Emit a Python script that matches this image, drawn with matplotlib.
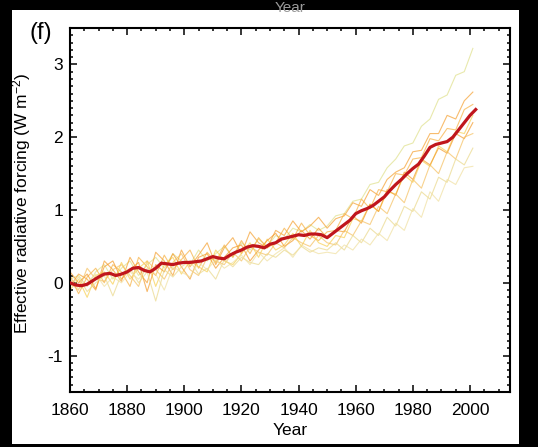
"""
Effective radiative forcing, panel (f): model ensemble members and the ensemble mean.
"""

import matplotlib

matplotlib.use("Agg")
import matplotlib.pyplot as plt
from matplotlib.patches import Rectangle
from matplotlib.ticker import MultipleLocator

plt.rcParams["font.family"] = ["Liberation Sans", "DejaVu Sans"]
plt.rcParams["mathtext.fontset"] = "custom"
plt.rcParams["mathtext.rm"] = "Liberation Sans"
plt.rcParams["mathtext.it"] = "Liberation Sans:italic"
plt.rcParams["axes.unicode_minus"] = False

#### Data

# ensemble mean, every second year
MEAN_YEARS = list(range(1860, 2004, 2))
MEAN_ERF = [
    0.00, -0.03, -0.04, -0.02, 0.03, 0.08, 0.12, 0.13, 0.10, 0.12,
    0.15, 0.20, 0.21, 0.17, 0.15, 0.20, 0.27, 0.26, 0.25, 0.27,
    0.28, 0.28, 0.29, 0.30, 0.33, 0.36, 0.34, 0.33, 0.38, 0.42,
    0.45, 0.49, 0.51, 0.50, 0.48, 0.53, 0.55, 0.60, 0.62, 0.64,
    0.66, 0.65, 0.67, 0.67, 0.66, 0.62, 0.68, 0.74, 0.80, 0.86,
    0.95, 0.99, 1.02, 1.06, 1.12, 1.18, 1.27, 1.35, 1.42, 1.50,
    1.57, 1.63, 1.74, 1.86, 1.90, 1.92, 1.94, 2.00, 2.10, 2.20,
    2.30, 2.38,
]

# individual members, every third year
MEMBER_YEARS = list(range(1860, 2003, 3))
MEMBER_A = [
    0.05, 0.10, -0.05, 0.15, 0.25, 0.05, 0.20, 0.30, 0.10, 0.25,
    0.35, 0.20, 0.40, 0.30, 0.25, 0.45, 0.30, 0.40, 0.50, 0.35,
    0.55, 0.45, 0.60, 0.50, 0.65, 0.60, 0.75, 0.70, 0.80, 0.72,
    0.78, 0.92, 0.95, 1.12, 1.15, 1.35, 1.38, 1.58, 1.70, 1.88,
    1.92, 2.15, 2.25, 2.52, 2.58, 2.85, 2.90, 3.22,
]
MEMBER_B = [
    -0.05, 0.12, 0.05, -0.10, 0.30, 0.18, 0.02, 0.35, 0.15, 0.00,
    0.42, 0.30, 0.10, 0.45, 0.22, 0.38, 0.55, 0.25, 0.48, 0.62,
    0.40, 0.70, 0.55, 0.48, 0.72, 0.65, 0.85, 0.70, 0.78, 0.90,
    0.75, 0.88, 0.92, 1.10, 1.05, 1.28, 1.20, 1.42, 1.52, 1.58,
    1.80, 1.82, 2.05, 2.05, 2.30, 2.25, 2.50, 2.62,
]
MEMBER_C = [
    0.10, -0.15, 0.08, 0.20, 0.00, 0.25, 0.15, -0.05, 0.35, 0.22,
    0.10, 0.38, 0.18, 0.32, 0.45, 0.20, 0.42, 0.28, 0.52, 0.35,
    0.58, 0.40, 0.62, 0.48, 0.55, 0.75, 0.60, 0.82, 0.65, 0.58,
    0.70, 0.72, 0.95, 0.88, 1.15, 1.02, 1.28, 1.25, 1.50, 1.48,
    1.70, 1.72, 1.98, 1.95, 2.12, 2.10, 2.38, 2.45,
]
MEMBER_D = [
    -0.10, 0.05, -0.20, 0.10, 0.15, -0.02, 0.28, 0.05, 0.20, 0.30,
    -0.05, 0.25, 0.35, 0.12, 0.30, 0.22, 0.15, 0.45, 0.30, 0.25,
    0.40, 0.55, 0.35, 0.60, 0.45, 0.52, 0.68, 0.50, 0.72, 0.55,
    0.50, 0.65, 0.62, 0.88, 0.85, 1.08, 0.98, 1.25, 1.22, 1.48,
    1.38, 1.68, 1.60, 1.88, 1.80, 2.08, 2.05, 2.30,
]
MEMBER_E = [
    0.15, 0.00, 0.12, -0.08, 0.22, 0.30, 0.05, 0.18, 0.28, -0.12,
    0.25, 0.15, 0.40, 0.22, 0.05, 0.35, 0.40, 0.20, 0.35, 0.48,
    0.52, 0.30, 0.45, 0.58, 0.68, 0.50, 0.58, 0.72, 0.60, 0.75,
    0.62, 0.72, 0.70, 0.92, 0.82, 1.08, 0.98, 1.28, 1.20, 1.52,
    1.42, 1.70, 1.62, 1.85, 1.78, 2.05, 1.98, 2.20,
]
MEMBER_F = [
    0.00, -0.10, 0.20, 0.05, 0.02, 0.18, 0.25, 0.10, -0.05, 0.30,
    0.18, 0.05, 0.28, 0.40, 0.18, 0.10, 0.35, 0.30, 0.25, 0.42,
    0.30, 0.50, 0.42, 0.38, 0.55, 0.48, 0.62, 0.55, 0.50, 0.65,
    0.55, 0.52, 0.72, 0.65, 0.85, 0.80, 1.05, 0.95, 1.22, 1.10,
    1.42, 1.30, 1.62, 1.50, 1.80, 1.70, 2.00, 2.05,
]
MEMBER_G = [
    -0.05, 0.08, -0.12, 0.00, 0.10, -0.18, 0.12, 0.20, 0.00, 0.15,
    -0.25, 0.18, 0.08, 0.22, 0.30, 0.12, 0.20, 0.05, 0.32, 0.22,
    0.35, 0.28, 0.25, 0.40, 0.35, 0.45, 0.38, 0.50, 0.42, 0.48,
    0.45, 0.55, 0.45, 0.65, 0.55, 0.75, 0.65, 0.90, 0.78, 1.05,
    0.98, 1.25, 1.15, 1.45, 1.38, 1.70, 1.62, 1.85,
]
MEMBER_H = [
    0.05, -0.08, 0.00, 0.12, -0.05, 0.08, 0.00, 0.15, 0.05, 0.20,
    0.12, -0.10, 0.22, 0.15, 0.08, 0.28, 0.18, 0.32, 0.20, 0.28,
    0.38, 0.25, 0.42, 0.30, 0.40, 0.48, 0.35, 0.52, 0.45, 0.40,
    0.42, 0.40, 0.52, 0.45, 0.60, 0.52, 0.68, 0.58, 0.82, 0.72,
    1.02, 0.90, 1.25, 1.12, 1.42, 1.35, 1.58, 1.60,
]

MEMBERS = [
    (MEMBER_A, "#dfe08a"),
    (MEMBER_B, "#f5a030"),
    (MEMBER_C, "#f7b040"),
    (MEMBER_D, "#f8d050"),
    (MEMBER_E, "#f39a2a"),
    (MEMBER_F, "#f5c060"),
    (MEMBER_G, "#ead88a"),
    (MEMBER_H, "#f0e0a0"),
]

X_TICKS = [1860, 1880, 1900, 1920, 1940, 1960, 1980, 2000]
Y_TICKS = [-1, 0, 1, 2, 3]

#### Figure

W, H = 538, 447
fig = plt.figure(figsize=(W / 100, H / 100), dpi=100, facecolor="black")
# white paper behind the panel, framed by black
fig.patches.append(
    Rectangle(
        (12 / W, 3 / H), (519 - 12) / W, (444 - 10) / H,
        transform=fig.transFigure, facecolor="white", edgecolor="none", zorder=-1,
    )
)
ax = fig.add_axes([70 / W, (H - 392) / H, 440 / W, 364 / H], zorder=2)

for values, color in MEMBERS:
    ax.plot(MEMBER_YEARS, values, color=color, lw=0.8, alpha=0.7, zorder=2)
ax.plot(MEAN_YEARS, MEAN_ERF, color="#c0161c", lw=2.3, zorder=3)

ax.set_xlim(1860, 2014)
ax.set_ylim(-1.5, 3.5)
ax.set_xticks(X_TICKS)
ax.set_yticks(Y_TICKS)
ax.xaxis.set_minor_locator(MultipleLocator(5))
ax.yaxis.set_minor_locator(MultipleLocator(0.1))
ax.tick_params(which="both", direction="in", top=True, right=True, width=1.1,
               color="black")
ax.tick_params(which="major", length=5, labelsize=12.5)
ax.tick_params(which="minor", length=2.5)
ax.tick_params(axis="x", which="major", pad=8)
ax.tick_params(axis="y", which="major", pad=5)
for spine in ax.spines.values():
    spine.set_linewidth(1.5)

ax.set_xlabel("Year", fontsize=12.5)
ax.xaxis.set_label_coords(0.5, -0.085)
ax.set_ylabel(r"Effective radiative forcing (W m$^{-2}$)", fontsize=12.5)
ax.yaxis.set_label_coords(-0.083, 0.52)

fig.text(41 / W, 1 - 33 / H, "(f)", ha="center", va="center", fontsize=17,
         zorder=5)
# label of the panel above, sitting on the top edge of the frame
fig.text(290 / W, 1 - 1 / H, "Year", ha="center", va="top", fontsize=11,
         color="#9a9a9a", zorder=5)

fig.savefig("out.png", dpi=100, facecolor="black")
